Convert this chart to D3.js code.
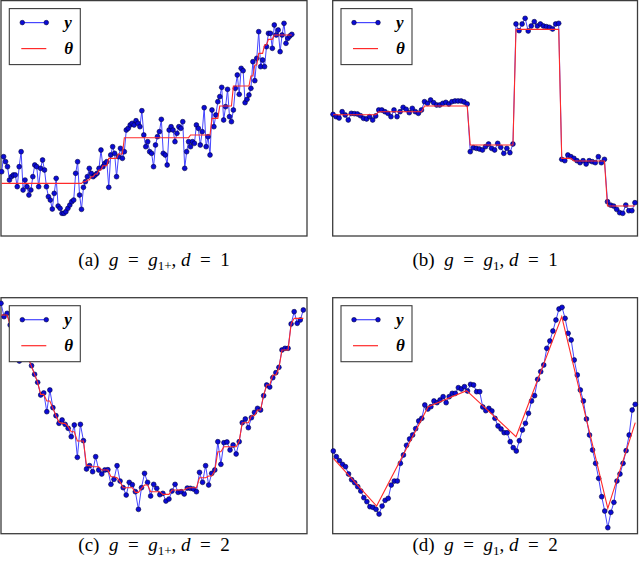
<!DOCTYPE html>
<html>
<head>
<meta charset="utf-8">
<script src="https://cdn.jsdelivr.net/npm/d3@7"></script>
<style>
body { margin: 0; background: #fff; }
text { font-family: "Liberation Serif", "DejaVu Serif", serif; }
</style>
</head>
<body>
<div id="chart"></div>
<script>

// (a) noisy trend, piecewise constant fit
var yA = [19.5,24.0,22.5,21.0,17.0,18.0,18.5,18.5,15.0,21.0,
  25.5,14.0,17.0,15.0,12.5,14.0,18.0,21.5,21.0,15.0,
  20.5,23.0,20.0,15.0,12.0,11.0,8.3,13.0,17.5,9.2,
  8.5,7.0,7.0,7.5,8.5,9.5,10.5,11.0,19.0,22.5,
  12.5,8.2,14.8,16.5,18.0,20.5,19.0,18.0,18.5,19.0,
  20.5,26.0,21.0,22.0,22.5,14.8,24.5,27.0,25.0,18.0,
  24.0,26.5,23.5,25.5,32.0,32.5,33.5,34.0,33.5,34.8,
  34.0,33.0,37.8,30.5,27.0,28.5,25.5,
  25.0,21.0,27.5,30.0,31.5,35.2,25.0,24.5,21.5,32.0,
  33.0,32.0,28.5,31.0,33.0,32.5,34.5,20.5,25.5,28.5,
  27.0,28.5,28.0,33.5,32.5,27.5,31.5,38.7,27.0,30.0,
  24.5,38.0,33.0,36.5,40.5,42.0,44.8,35.0,39.0,44.2,
  36.0,34.5,38.0,44.5,48.5,42.7,50.5,49.8,40.2,41.2,
  42.5,44.5,52.5,46.8,53.5,61.5,51.0,53.0,51.0,57.0,
  61.0,61.0,56.5,63.5,60.5,62.0,55.5,60.5,64.0,58.0,
  59.5,60.2,60.7];
var thetaA = [16,16,16,16,16,16,16,16,16,16,16,16,16,16,16,16,16,16,16,16,
  16,16,16,16,16,16,16,16,16,16,16,16,16,16,16,16,16,16,16,16,16,16,
  16.5,16.5,17.0,17.0,18.0,18.0,18.8,18.8,20.0,20.0,21.3,21.3,21.3,
  23.5,23.5,23.5,23.5,23.5,24.8,24.8,24.8,
  29.7,29.7,29.7,29.7,29.7,29.7,29.7,29.7,29.7,29.7,29.7,29.7,29.7,29.7,29.7,29.7,29.7,
  29.7,29.7,29.7,29.7,29.7,29.7,29.7,29.7,29.7,29.7,29.7,29.7,29.7,29.7,29.7,29.7,29.7,
  30.5,30.5,30.5,30.5,30.5,30.5,30.5,30.5,30.5,30.5,30.5,
  35.5,35.5,35.5,35.5,
  39.2,39.2,39.2,39.2,39.2,39.2,39.2,
  45.2,45.2,45.2,45.2,45.2,45.2,45.2,45.2,45.2,
  48.2,48.2,51.5,51.5,55.0,55.0,55.0,57.5,57.5,59.2,59.2,59.2,
  60.5,60.5,60.5,60.5,60.5,60.5,60.5,60.5,60.5,60.5];

// (b) piecewise constant signal
var yB = [36.7,36.0,35.6,37.5,36.5,35.0,37.0,36.9,36.8,36.3,35.5,35.3,36.0,35.0,36.2,
  38.0,38.0,37.5,37.0,36.0,38.0,36.0,37.5,38.8,38.2,37.2,38.5,37.5,37.0,38.0,
  40.5,40.0,41.0,40.2,39.5,39.5,40.0,40.3,39.8,40.5,40.7,40.7,40.7,40.4,39.8,
  25.5,26.7,26.5,26.3,26.0,27.0,27.8,26.5,26.0,28.0,26.8,25.0,26.5,25.2,27.8,
  63.8,61.8,63.8,65.5,61.7,63.2,64.5,63.2,63.8,63.2,63.0,62.8,62.3,63.8,64.0,
  23.2,22.8,24.5,24.0,23.5,22.8,22.2,22.8,21.8,22.8,22.5,22.2,24.0,22.2,23.2,
  10.5,9.5,9.2,8.2,7.2,7.0,9.5,7.8,7.8,10.2];
var thetaB = [36.6,36.6,36.6,36.6,36.6,36.6,36.6,36.6,36.6,36.6,36.6,36.6,36.6,36.6,36.6,
  37.5,37.5,37.5,37.5,37.5,37.5,37.5,37.5,37.5,37.5,37.5,37.5,37.5,37.5,37.5,
  39.2,39.2,39.2,39.2,39.2,39.2,39.2,39.2,39.2,39.2,39.2,39.2,39.2,39.2,39.2,
  27.5,27.5,27.5,27.5,27.5,27.5,27.5,27.5,27.5,27.5,27.5,27.5,27.5,27.5,27.5,
  62.2,62.2,62.2,62.2,62.2,62.2,62.2,62.2,62.2,62.2,62.2,62.2,62.2,62.2,62.2,
  23.5,23.5,23.5,23.5,22.7,22.7,22.7,22.7,22.7,22.7,22.7,22.7,22.7,22.7,22.7,
  9.2,9.2,9.2,9.2,9.2,9.2,9.2,9.2,9.2,9.2];

// (c) U shaped curve
var yC = [69.1,65.1,66.1,62.6,60.0,58.5,51.8,55.5,54.0,52.5,
  50.4,47.8,45.4,41.6,42.2,36.6,43.1,37.8,35.4,33.1,
  34.1,32.8,31.6,29.1,32.6,22.9,32.8,27.9,19.4,20.4,
  18.6,23.1,19.1,17.9,19.1,19.2,14.8,16.3,20.4,15.8,
  13.8,11.6,15.4,14.7,12.6,7.3,13.8,18.1,15.4,11.3,
  14.8,13.6,11.7,12.1,9.8,10.4,12.8,14.8,12.4,12.6,
  11.9,13.7,13.6,13.4,12.6,18.4,15.4,20.4,14.6,18.1,
  19.1,27.6,20.8,27.3,27.5,25.1,26.6,23.9,27.6,33.3,
  34.4,31.8,34.8,36.4,37.6,37.1,41.4,44.6,44.0,46.8,
  48.3,49.9,55.1,55.6,55.6,62.9,66.6,63.1,64.1,67.1];
var thetaC = [65.6,65.6,65.6,62.5,60.0,58.5,56.5,55.5,54.0,52.5,
  50.1,47.8,45.4,41.8,41.8,39.8,39.8,37.6,35.4,33.4,
  33.1,33.1,32.1,30.6,30.6,27.8,27.8,27.8,20.4,20.4,
  20.1,20.1,20.1,19.1,19.1,19.1,17.1,17.1,16.8,15.5,
  13.8,13.8,13.8,13.8,12.4,12.4,13.6,14.6,14.6,12.6,
  12.6,12.6,12.6,11.8,11.8,11.8,13.1,13.1,13.1,13.1,
  13.1,13.7,13.8,13.8,13.8,16.8,16.8,16.8,17.3,17.3,
  18.9,24.6,24.6,26.1,26.1,26.1,26.1,26.1,27.8,33.3,
  33.3,33.3,35.4,35.4,37.1,37.1,41.6,44.6,44.6,47.6,
  47.6,49.6,55.1,55.1,55.1,62.9,64.6,64.6,64.6,64.6];

// (d) piecewise linear signal
var yD = [24.8,23.1,21.9,20.8,20.1,17.9,16.2,15.3,14.1,12.8,
  10.8,9.6,8.1,7.9,7.3,5.9,8.3,10.0,10.6,14.6,
  15.8,15.8,21.1,23.6,26.5,28.4,29.6,31.5,33.8,34.6,
  38.6,37.4,38.1,39.8,39.3,40.1,41.1,39.3,41.1,42.1,
  42.1,43.8,43.4,44.1,42.8,44.8,44.6,42.6,42.6,38.0,
  36.9,37.6,36.8,34.6,32.3,31.4,30.3,30.3,27.6,25.8,
  24.8,27.9,31.1,33.1,36.1,39.8,41.4,46.3,48.6,50.6,
  55.6,57.8,60.8,64.1,67.4,67.9,64.6,60.1,58.1,52.1,
  47.6,43.1,39.8,34.4,29.6,25.1,21.1,16.6,11.1,6.8,
  1.8,6.4,9.4,15.8,17.9,21.1,24.9,29.6,37.1,38.8];
var thetaDx = [0, 14.2, 31.1, 43.7, 59.9, 74.9, 90, 99];
var thetaD = [22.6, 8.3, 38.1, 42.9, 29.1, 65.1, 7.6, 33.3];

var W = 640, H = 567;
var svg = d3.select("#chart").append("svg")
    .attr("width", W)
    .attr("height", H);

svg.append("rect").attr("width", W).attr("height", H).attr("fill", "#fff");

function drawPanel(p) {
  var x = d3.scaleLinear().domain(p.xdom).range([p.x0, p.x1]);
  var y = d3.scaleLinear().domain([0, 71]).range([p.base, p.base - 236.7]);
  var g = svg.append("g");

  g.append("rect")
    .attr("x", p.x0).attr("y", p.y0)
    .attr("width", p.x1 - p.x0).attr("height", p.y1 - p.y0)
    .attr("fill", "none").attr("stroke", "#3c3c3c").attr("stroke-width", 1.3);

  var line = d3.line()
    .x(function (d, i) { return x(i); })
    .y(function (d) { return y(d); });

  g.append("path")
    .datum(p.y)
    .attr("d", line)
    .attr("fill", "none")
    .attr("stroke", "#4646ff")
    .attr("stroke-width", 1);

  g.selectAll("circle.pt")
    .data(p.y)
    .enter().append("circle")
    .attr("class", "pt")
    .attr("cx", function (d, i) { return x(i); })
    .attr("cy", function (d) { return y(d); })
    .attr("r", 2.4)
    .attr("fill", "#0b0bd6")
    .attr("stroke", "#000040")
    .attr("stroke-width", 0.6);

  // fitted theta
  var tline = d3.line()
    .x(function (d) { return x(d[0]); })
    .y(function (d) { return y(d[1]); });
  var tpts = p.theta.map(function (v, i) {
    return [p.thetaX ? p.thetaX[i] : i, v];
  });
  g.append("path")
    .datum(tpts)
    .attr("d", tline)
    .attr("fill", "none")
    .attr("stroke", "#ff2a2a")
    .attr("stroke-width", 1.1);

  // legend
  var lx = p.x0 + 8.3, ly = p.y0 + 8;
  var lg = g.append("g").attr("transform", "translate(" + lx + "," + ly + ")");
  lg.append("rect")
    .attr("width", 71).attr("height", 56)
    .attr("fill", "#fff").attr("stroke", "#3c3c3c").attr("stroke-width", 1.1);
  lg.append("line")
    .attr("x1", 13).attr("x2", 37).attr("y1", 14).attr("y2", 14)
    .attr("stroke", "#4646ff").attr("stroke-width", 1.2);
  [13, 37].forEach(function (cx) {
    lg.append("circle").attr("cx", cx).attr("cy", 14).attr("r", 2.3)
      .attr("fill", "#0b0bd6").attr("stroke", "#000040").attr("stroke-width", 0.6);
  });
  lg.append("line")
    .attr("x1", 12).attr("x2", 37).attr("y1", 40).attr("y2", 40)
    .attr("stroke", "#ff2a2a").attr("stroke-width", 1.2);
  lg.append("text").attr("x", 55).attr("y", 19)
    .style("font-style", "italic").style("font-weight", "bold").style("font-size", "17px")
    .text("y");
  lg.append("text").attr("x", 55).attr("y", 45)
    .style("font-style", "italic").style("font-weight", "bold").style("font-size", "17px")
    .text("θ");

  // caption
  var cap = svg.append("text")
    .attr("x", (p.x0 + p.x1) / 2)
    .attr("y", p.capY)
    .attr("text-anchor", "middle")
    .style("font-size", "19px");
  cap.append("tspan").text("(" + p.label + ")\u2002");
  cap.append("tspan").style("font-style", "italic").text("g");
  cap.append("tspan").text("\u2002=\u2002");
  cap.append("tspan").style("font-style", "italic").text("g");
  cap.append("tspan").attr("dy", 4).style("font-size", "13px").text(p.sub);
  cap.append("tspan").attr("dy", -4).text(", ");
  cap.append("tspan").style("font-style", "italic").text("d");
  cap.append("tspan").text("\u2002=\u2002" + p.d);
}

drawPanel({ label: "a", sub: "1+", d: 1, y: yA, theta: thetaA,
  x0: 1, x1: 307, y0: 0.6, y1: 236, base: 236.7, xdom: [-0.34, 156.8], capY: 266 });
drawPanel({ label: "b", sub: "1", d: 1, y: yB, theta: thetaB,
  x0: 332.7, x1: 637.5, y0: 0.6, y1: 236, base: 236.7, xdom: [-0.1, 99.84], capY: 266 });
drawPanel({ label: "c", sub: "1+", d: 2, y: yC, theta: thetaC,
  x0: 1, x1: 307, y0: 297.7, y1: 533.7, base: 533.7, xdom: [0, 100.2], capY: 551 });
drawPanel({ label: "d", sub: "1", d: 2, y: yD, theta: thetaD, thetaX: thetaDx,
  x0: 332.7, x1: 637.5, y0: 297.7, y1: 533.7, base: 533.7, xdom: [-0.2, 99.74], capY: 551 });

</script>
</body>
</html>
